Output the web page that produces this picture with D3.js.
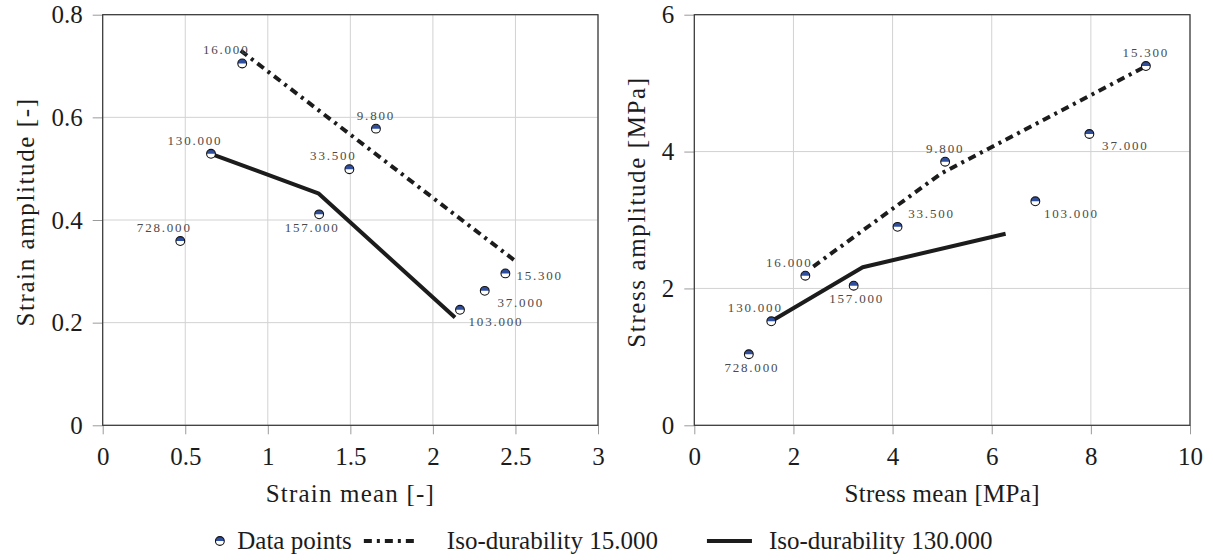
<!DOCTYPE html>
<html>
<head>
<meta charset="utf-8">
<script src="https://cdn.jsdelivr.net/npm/d3@7"></script>
<style>
  body { margin: 0; background: #fff; }
  svg text { font-family: "Liberation Serif", "DejaVu Serif", "Noto Serif", serif !important; }
</style>
</head>
<body>
<svg id="fig" width="1213" height="560"></svg>
<script>
// Cycles to failure for each test specimen (point labels)
const cycleLabels = ["16.000", "9.800", "130.000", "33.500", "157.000", "728.000", "15.300", "37.000", "103.000"];

// Strain mean / amplitude of each specimen [-]
const strainMean = [0.845, 1.655, 0.656, 1.494, 1.311, 0.470, 2.439, 2.314, 2.164];
const strainAmp  = [0.705, 0.578, 0.529, 0.499, 0.411, 0.359, 0.296, 0.262, 0.225];

// Stress mean / amplitude of each specimen [MPa]
const stressMean = [2.24, 5.06, 1.553, 4.10, 3.215, 1.10, 9.11, 7.97, 6.88];
const stressAmp  = [2.186, 3.852, 1.520, 2.90, 2.04, 1.038, 5.25, 4.257, 3.273];

// Iso-durability curves
const strainIso15Mean  = [0.836, 2.492];
const strainIso15Amp   = [0.730, 0.322];
const strainIso130Mean = [0.656, 1.306, 2.134];
const strainIso130Amp  = [0.529, 0.452, 0.210];
const stressIso15Mean  = [2.40, 4.98, 9.12];
const stressIso15Amp   = [2.32, 3.68, 5.25];
const stressIso130Mean = [1.553, 3.397, 6.28];
const stressIso130Amp  = [1.52, 2.31, 2.80];

// Axis ticks
const strainXTicks = [0, 0.5, 1, 1.5, 2, 2.5, 3];
const strainYTicks = [0, 0.2, 0.4, 0.6, 0.8];
const stressXTicks = [0, 2, 4, 6, 8, 10];
const stressYTicks = [0, 2, 4, 6];

// Where each point label sits relative to its marker
const strainLabelPos = ["aboveLeft", "above", "aboveLeft", "aboveLeft", "belowLeft", "aboveLeft", "right", "belowRight", "belowRight"];
const stressLabelPos = ["aboveLeft", "above", "aboveLeft", "aboveRight", "below", "below", "above", "belowRight", "belowRight"];

const legendLabels = ["Data points", "Iso-durability 15.000", "Iso-durability 130.000"];

// ---------------------------------------------------------------
const SERIF = '"Liberation Serif", "DejaVu Serif", "Noto Serif", serif';
const svg = d3.select("#fig");
const FS = 25;
const INK = "#1c1c1c";
const BLUE = "#2f4e9e";
const DASH = "8 5 3 5";

const labelOffset = {
  above:      { dx: 0,   dy: -9,   anchor: "middle" },
  aboveLeft:  { dx: -16, dy: -9,   anchor: "middle" },
  aboveRight: { dx: 34,  dy: -9,   anchor: "middle" },
  below:      { dx: 3,   dy: 17.5, anchor: "middle" },
  belowLeft:  { dx: -7,  dy: 18,   anchor: "middle" },
  belowRight: { dx: 36,  dy: 16.5, anchor: "middle" },
  right:      { dx: 11,  dy: 7,    anchor: "start" }
};

function halfMarker(g, r) {
  g.append("circle").attr("r", r).attr("fill", "#fff");
  g.append("path")
    .attr("d", `M${-r},0 A${r},${r} 0 0 1 ${r},0 Z`)
    .attr("fill", BLUE);
  g.append("circle").attr("r", r).attr("fill", "none")
    .attr("stroke", "#111").attr("stroke-width", 1.1);
}

function panel(cfg) {
  const x = d3.scaleLinear().domain(cfg.xDomain).range(cfg.xRange);
  const y = d3.scaleLinear().domain(cfg.yDomain).range(cfg.yRange);
  const g = svg.append("g").attr("font-family", SERIF);

  // grid
  g.append("g").selectAll("line").data(cfg.xTicks).join("line")
    .attr("x1", d => x(d)).attr("x2", d => x(d))
    .attr("y1", cfg.yRange[0]).attr("y2", cfg.yRange[1])
    .attr("stroke", "#d2d2d2").attr("stroke-width", 1);
  g.append("g").selectAll("line").data(cfg.yTicks).join("line")
    .attr("y1", d => y(d)).attr("y2", d => y(d))
    .attr("x1", cfg.xRange[0]).attr("x2", cfg.xRange[1])
    .attr("stroke", "#d2d2d2").attr("stroke-width", 1);

  // axes with outward ticks
  const xAxis = d3.axisBottom(x).tickValues(cfg.xTicks).tickSize(9).tickPadding(8)
    .tickFormat(d3.format("~g"));
  const yAxis = d3.axisLeft(y).tickValues(cfg.yTicks).tickSize(10).tickPadding(10)
    .tickFormat(d3.format("~g"));
  const gx = g.append("g").attr("transform", `translate(0,${cfg.yRange[0]})`).call(xAxis);
  const gy = g.append("g").attr("transform", `translate(${cfg.xRange[0]},0)`).call(yAxis);
  [gx, gy].forEach(a => {
    a.attr("font-family", SERIF).attr("font-size", FS);
    a.select(".domain").remove();
    a.selectAll(".tick line").attr("stroke", "#9a9a9a");
    a.selectAll(".tick text").attr("fill", INK);
  });
  gx.selectAll(".tick text").attr("dy", "0.9em");

  // frame
  g.append("rect")
    .attr("x", cfg.xRange[0]).attr("y", cfg.yRange[1])
    .attr("width", cfg.xRange[1] - cfg.xRange[0])
    .attr("height", cfg.yRange[0] - cfg.yRange[1])
    .attr("fill", "none").attr("stroke", "#333").attr("stroke-width", 1.2);

  // axis titles
  g.append("text")
    .attr("x", (cfg.xRange[0] + cfg.xRange[1]) / 2).attr("y", 502)
    .attr("text-anchor", "middle").attr("font-size", FS).attr("fill", INK)
    .attr("letter-spacing", cfg.xTitleSpacing)
    .text(cfg.xTitle);
  g.append("text")
    .attr("transform", `translate(${cfg.yTitleX},${(cfg.yRange[0] + cfg.yRange[1]) / 2 - 8}) rotate(-90)`)
    .attr("text-anchor", "middle").attr("font-size", FS).attr("fill", INK)
    .attr("letter-spacing", 1.6)
    .text(cfg.yTitle);

  // iso-durability curves
  const line = d3.line().x(d => x(d[0])).y(d => y(d[1]));
  g.append("path")
    .datum(d3.zip(cfg.iso130X, cfg.iso130Y))
    .attr("d", line).attr("fill", "none").attr("stroke", INK)
    .attr("stroke-width", 4).attr("stroke-linejoin", "round");
  g.append("path")
    .datum(d3.zip(cfg.iso15X, cfg.iso15Y))
    .attr("d", line).attr("fill", "none").attr("stroke", INK)
    .attr("stroke-width", 4).attr("stroke-dasharray", DASH);

  // data points
  const pts = d3.range(cfg.px.length).map(i => ({
    x: cfg.px[i], y: cfg.py[i], label: cycleLabels[i], pos: cfg.labelPos[i]
  }));
  g.append("g").selectAll("g").data(pts).join("g")
    .attr("transform", d => `translate(${x(d.x)},${y(d.y)})`)
    .each(function () { halfMarker(d3.select(this), 4.4); });

  g.append("g").selectAll("text").data(pts).join("text")
    .attr("x", d => x(d.x) + labelOffset[d.pos].dx)
    .attr("y", d => y(d.y) + labelOffset[d.pos].dy)
    .attr("text-anchor", d => labelOffset[d.pos].anchor)
    .attr("font-size", 13).attr("letter-spacing", 1.8)
    .attr("fill", "#4a4a4a")
    .text(d => d.label);
}

panel({
  xDomain: [0, 3], yDomain: [0, 0.8],
  xRange: [102.7, 598], yRange: [425.3, 14.7],
  xTicks: strainXTicks, yTicks: strainYTicks,
  xTitle: "Strain mean [-]", xTitleSpacing: 1.2,
  yTitle: "Strain amplitude [-]", yTitleX: 34,
  px: strainMean, py: strainAmp, labelPos: strainLabelPos,
  iso15X: strainIso15Mean, iso15Y: strainIso15Amp,
  iso130X: strainIso130Mean, iso130Y: strainIso130Amp
});

panel({
  xDomain: [0, 10], yDomain: [0, 6],
  xRange: [694.3, 1190], yRange: [425.3, 14.7],
  xTicks: stressXTicks, yTicks: stressYTicks,
  xTitle: "Stress mean [MPa]", xTitleSpacing: 0.3,
  yTitle: "Stress amplitude [MPa]", yTitleX: 645,
  px: stressMean, py: stressAmp, labelPos: stressLabelPos,
  iso15X: stressIso15Mean, iso15Y: stressIso15Amp,
  iso130X: stressIso130Mean, iso130Y: stressIso130Amp
});

// legend: marker, then two line samples, each followed by its text
const leg = svg.append("g").attr("font-family", SERIF);
const legY = 541;
const markerR = 4.4;
const gapBefore = [13, 33, 17];   // sample -> text
const gapAfter = [12, 49];        // text -> next sample
const sampleW = [0, 50, 45];
let cx = 0;
const m = leg.append("g").attr("transform", `translate(${markerR},${legY})`);
halfMarker(m, markerR);
cx = 2 * markerR;
legendLabels.forEach((lab, i) => {
  if (i > 0) {
    const sample = leg.append("line")
      .attr("y1", legY).attr("y2", legY)
      .attr("x1", cx).attr("x2", cx + sampleW[i])
      .attr("stroke", INK).attr("stroke-width", 4);
    if (i === 1) sample.attr("stroke-dasharray", DASH);
    cx += sampleW[i];
  }
  cx += gapBefore[i];
  const t = leg.append("text").attr("x", cx).attr("y", legY + 8)
    .attr("font-size", FS).attr("fill", INK).text(lab);
  cx += t.node().getComputedTextLength();
  if (i < gapAfter.length) cx += gapAfter[i];
});
leg.attr("transform", `translate(${604 - cx / 2},0)`);
</script>
</body>
</html>
